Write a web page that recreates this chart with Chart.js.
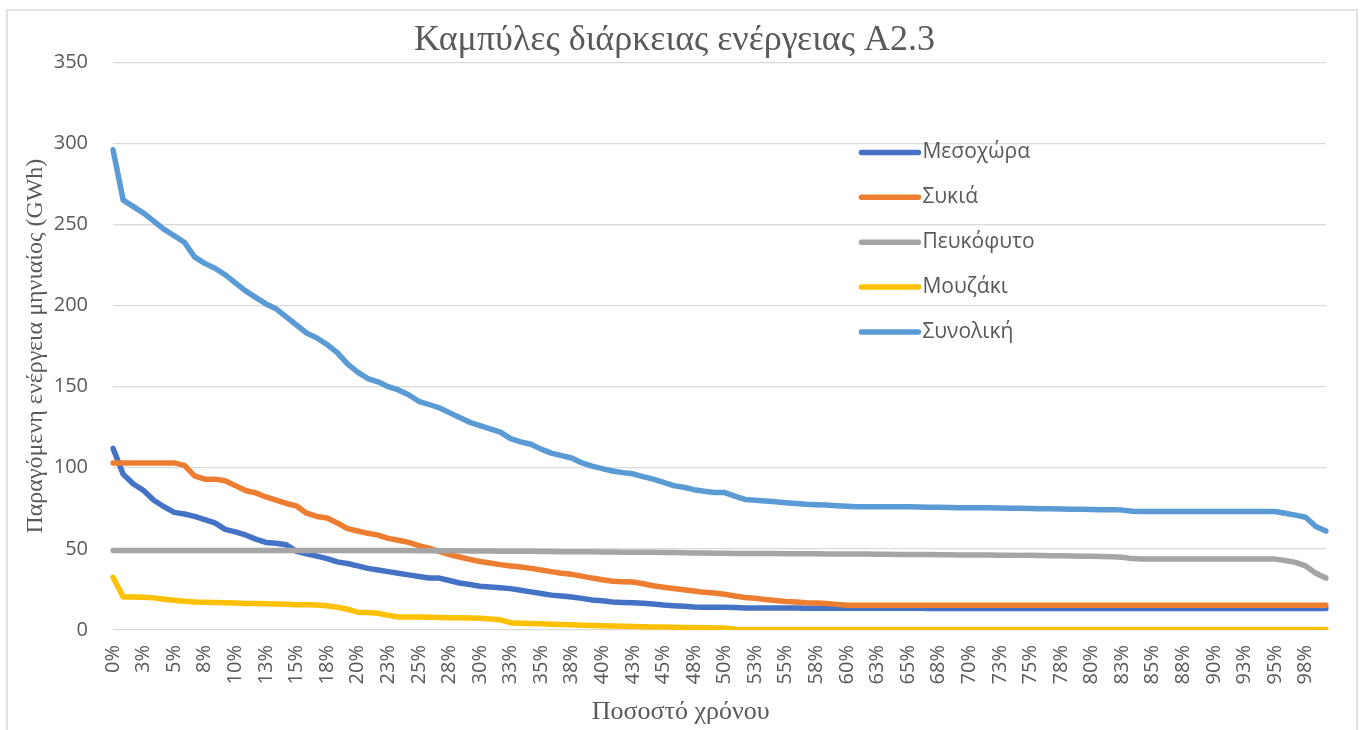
<!DOCTYPE html>
<html lang="el">
<head>
<meta charset="utf-8">
<title>Καμπύλες διάρκειας ενέργειας Α2.3</title>
<script src="https://cdn.jsdelivr.net/npm/chart.js@4.4.1/dist/chart.umd.min.js"></script>
<style>
  html, body { margin: 0; padding: 0; background: #fff; }
  #wrap { width: 1365px; height: 730px; position: relative; }
</style>
</head>
<body>
<div id="wrap"><canvas id="chart"></canvas></div>
<script>
// monthly energy, sorted descending (duration curves), 120 steps over the time share
const categories = Array.from({ length: 120 }, (_, i) => (i * 100 / 120).toFixed(1) + '%');

// axis labels shown every 3rd step (2.5 %)
const tickLabels = ['0%','3%','5%','8%','10%','13%','15%','18%','20%','23%','25%','28%','30%','33%','35%','38%',
  '40%','43%','45%','48%','50%','53%','55%','58%','60%','63%','65%','68%','70%','73%','75%','78%',
  '80%','83%','85%','88%','90%','93%','95%','98%'];

const seriesNames = ['Μεσοχώρα', 'Συκιά', 'Πευκόφυτο', 'Μουζάκι', 'Συνολική'];
const seriesColors = ['#4472C4', '#ED7D31', '#A5A5A5', '#FFC000', '#5B9BD5'];

const mesochora = [
  112, 96, 90, 86, 80, 76, 72.5, 71.5, 70, 68,
  66, 62, 60.5, 58.6, 56, 54, 53.5, 52.5, 48.5, 47,
  45.5, 44, 42, 41, 39.5, 38, 37, 36, 35, 34,
  33, 32, 32, 30.5, 29, 28, 27, 26.5, 26, 25.5,
  24.5, 23.5, 22.5, 21.5, 21, 20.3, 19.5, 18.5, 18, 17.3,
  17, 16.8, 16.5, 16, 15.4, 15, 14.6, 14.2, 14.1, 14,
  14, 13.8, 13.6, 13.6, 13.5, 13.5, 13.5, 13.5, 13.4, 13.4,
  13.4, 13.4, 13.4, 13.4, 13.4, 13.4, 13.4, 13.4, 13.4, 13.4,
  13.3, 13.3, 13.3, 13.3, 13.3, 13.3, 13.3, 13.3, 13.3, 13.3,
  13.3, 13.3, 13.3, 13.3, 13.3, 13.3, 13.3, 13.3, 13.3, 13.3,
  13.3, 13.3, 13.3, 13.3, 13.3, 13.3, 13.3, 13.3, 13.3, 13.3,
  13.3, 13.3, 13.3, 13.3, 13.3, 13.3, 13.3, 13.3, 13.3, 13.3
];

const sykia = [
  103, 103, 103, 103, 103, 103, 103, 101.5, 95, 93,
  93, 92, 89, 86, 84.5, 82, 80, 78, 76.5, 72,
  70, 69, 66, 62.5, 61, 59.6, 58.5, 56.5, 55.3, 54,
  52, 50.5, 48.5, 46.5, 45, 43.5, 42.2, 41.3, 40.3, 39.5,
  38.8, 38, 37, 36, 35, 34.3, 33.2, 32, 31, 30,
  29.8, 29.6, 28.5, 27.3, 26.4, 25.6, 24.8, 24, 23.2, 22.8,
  22, 21, 20, 19.5, 18.8, 18.2, 17.6, 17.2, 16.8, 16.6,
  16.4, 15.8, 15.3, 15.2, 15.2, 15.2, 15.2, 15.2, 15.2, 15.2,
  15.2, 15.2, 15.2, 15.2, 15.2, 15.2, 15.2, 15.2, 15.2, 15.2,
  15.2, 15.2, 15.2, 15.2, 15.2, 15.2, 15.2, 15.2, 15.2, 15.2,
  15.2, 15.2, 15.2, 15.2, 15.2, 15.2, 15.2, 15.2, 15.2, 15.2,
  15.2, 15.2, 15.2, 15.2, 15.2, 15.2, 15.2, 15.2, 15.2, 15.2
];

const pefkofyto = [
  49, 49, 49, 49, 49, 49, 49, 49, 49, 49,
  49, 49, 49, 49, 49, 49, 49, 49, 49, 49,
  49, 49, 49, 49, 49, 49, 49, 49, 49, 49,
  48.9, 48.9, 48.8, 48.8, 48.8, 48.7, 48.7, 48.7, 48.6, 48.6,
  48.5, 48.5, 48.4, 48.4, 48.3, 48.3, 48.2, 48.2, 48.1, 48.1,
  48, 48, 47.9, 47.9, 47.8, 47.7, 47.6, 47.5, 47.4, 47.3,
  47.3, 47.2, 47.2, 47.1, 47.1, 47.1, 47, 47, 47, 47,
  46.9, 46.9, 46.8, 46.8, 46.8, 46.7, 46.7, 46.6, 46.6, 46.5,
  46.5, 46.4, 46.4, 46.3, 46.3, 46.2, 46.2, 46.1, 46.1, 46,
  46, 45.9, 45.8, 45.7, 45.6, 45.5, 45.4, 45.3, 45.2, 44.8,
  44, 43.7, 43.7, 43.7, 43.7, 43.7, 43.7, 43.7, 43.7, 43.7,
  43.7, 43.7, 43.7, 43.7, 43.7, 42.8, 41.7, 39.5, 35, 32
];

const mouzaki = [
  32.5, 20.4, 20.3, 20.2, 19.8, 19, 18.3, 17.7, 17.3, 17.1,
  17, 16.8, 16.6, 16.4, 16.3, 16.2, 16, 15.8, 15.6, 15.5,
  15.4, 15, 14, 12.8, 11, 10.8, 10.3, 9, 8, 8,
  8, 7.8, 7.7, 7.6, 7.5, 7.4, 7.2, 6.8, 6.3, 4.5,
  4.2, 4, 3.8, 3.6, 3.4, 3.2, 3, 2.8, 2.6, 2.4,
  2.3, 2.1, 2, 1.9, 1.8, 1.7, 1.6, 1.5, 1.4, 1.3,
  1.2, 0.4, 0.3, 0.3, 0.3, 0.3, 0.3, 0.3, 0.3, 0.3,
  0.3, 0.3, 0.3, 0.3, 0.3, 0.3, 0.3, 0.3, 0.3, 0.3,
  0.3, 0.3, 0.3, 0.3, 0.3, 0.3, 0.3, 0.3, 0.3, 0.3,
  0.3, 0.3, 0.3, 0.3, 0.3, 0.3, 0.3, 0.3, 0.3, 0.3,
  0.3, 0.3, 0.3, 0.3, 0.3, 0.3, 0.3, 0.3, 0.3, 0.3,
  0.3, 0.3, 0.3, 0.3, 0.3, 0.3, 0.3, 0.3, 0.3, 0.3
];

const synoliki = [
  296, 265, 261, 257, 252, 247, 243, 239, 230, 226,
  223, 219, 214, 209, 205, 201, 198, 193, 188, 183,
  180, 176, 171, 164, 159, 155, 153, 150, 148, 145,
  141, 139, 137, 134, 131, 128, 126, 124, 122, 118,
  116, 114.5, 111.5, 109, 107.5, 106, 103, 101, 99.5, 98,
  97, 96.3, 94.5, 93, 91, 89, 88, 86.5, 85.5, 84.7,
  84.7, 82.5, 80.5, 80, 79.5, 79, 78.5, 78, 77.5, 77.2,
  77, 76.6, 76.3, 76, 76, 76, 76, 76, 75.9, 75.8,
  75.7, 75.6, 75.5, 75.4, 75.4, 75.3, 75.3, 75.2, 75.1, 75,
  74.9, 74.8, 74.7, 74.6, 74.5, 74.4, 74.3, 74.2, 74.2, 73.9,
  73.2, 73, 73, 73, 73, 73, 73, 73, 73, 73,
  73, 73, 73, 73, 73, 72, 70.8, 69.5, 63.8, 61
];

const seriesData = [mesochora, sykia, pefkofyto, mouzaki, synoliki];

const textGrey = '#595959';
const gridGrey = '#d9d9d9';
const sansFont = "'Open Sans', 'Noto Sans', sans-serif";
const serifFont = "'Liberation Serif', 'Times New Roman', serif";

// white card with a thin grey frame behind the whole chart
const framePlugin = {
  id: 'frame',
  beforeDraw(chart) {
    const { ctx, width, height } = chart;
    ctx.save();
    ctx.fillStyle = '#ffffff';
    ctx.fillRect(0, 0, width, height);
    ctx.strokeStyle = gridGrey;
    ctx.lineWidth = 1.5;
    ctx.strokeRect(7, 10, width - 15, height);
    ctx.restore();
  }
};

// x axis caption, sitting a bit left of the plot centre
const xCaption = {
  id: 'xCaption',
  afterDraw(chart, args, opts) {
    const { ctx, chartArea } = chart;
    ctx.save();
    ctx.font = `${opts.fontSize}px ${serifFont}`;
    ctx.fillStyle = textGrey;
    ctx.textAlign = 'center';
    ctx.textBaseline = 'middle';
    ctx.fillText(opts.text, chartArea.left + opts.at * chartArea.width, chart.height - opts.fromBottom);
    ctx.restore();
  }
};

// legend list placed inside the plot area, right of centre
const insideLegend = {
  id: 'insideLegend',
  afterDraw(chart, args, opts) {
    const { ctx, chartArea } = chart;
    const x0 = chartArea.left + opts.left * chartArea.width;
    const y0 = chartArea.top + opts.top * chartArea.height;
    const rowGap = opts.row * chartArea.height;
    ctx.save();
    ctx.font = `${opts.fontSize}px ${sansFont}`;
    ctx.textBaseline = 'middle';
    ctx.textAlign = 'left';
    chart.data.datasets.forEach((ds, i) => {
      const y = y0 + i * rowGap;
      ctx.strokeStyle = ds.borderColor;
      ctx.lineWidth = ds.borderWidth;
      ctx.lineCap = 'round';
      ctx.beginPath();
      ctx.moveTo(x0, y);
      ctx.lineTo(x0 + opts.sample, y);
      ctx.stroke();
      ctx.fillStyle = textGrey;
      ctx.fillText(ds.label, x0 + opts.sample + 4, y);
    });
    ctx.restore();
  }
};

const ctx = document.getElementById('chart').getContext('2d');

const energyChart = new Chart(ctx, {
  type: 'line',
  data: {
    labels: categories,
    datasets: seriesNames.map((name, i) => ({
      label: name,
      data: seriesData[i],
      borderColor: seriesColors[i],
      backgroundColor: seriesColors[i],
      borderWidth: 5.5,
      borderCapStyle: 'round',
      borderJoinStyle: 'round',
      pointRadius: 0,
      tension: 0,
      // later series drawn on top
      order: seriesNames.length - i
    }))
  },
  options: {
    responsive: true,
    maintainAspectRatio: false,
    animation: false,
    layout: { padding: { left: 8, right: 24, top: 10, bottom: 0 } },
    plugins: {
      legend: { display: false },
      tooltip: { enabled: false },
      title: {
        display: true,
        text: 'Καμπύλες διάρκειας ενέργειας Α2.3',
        color: textGrey,
        font: { family: serifFont, size: 36, weight: 'normal' },
        padding: { top: 9, bottom: 0 }
      },
      insideLegend: { left: 0.617, top: 0.159, row: 0.079, sample: 57, fontSize: 21 },
      xCaption: { text: 'Ποσοστό χρόνου', at: 0.468, fromBottom: 18, fontSize: 26 }
    },
    scales: {
      x: {
        grid: { display: false, drawTicks: false },
        border: { display: false },
        ticks: {
          color: textGrey,
          font: { family: sansFont, size: 20 },
          autoSkip: false,
          minRotation: 90,
          maxRotation: 90,
          padding: 15,
          callback: (value, index) => (index % 3 === 0 ? tickLabels[index / 3] : '')
        },
        afterFit: (scale) => { scale.height = 100; }
      },
      y: {
        min: 0,
        max: 350,
        grid: { color: gridGrey, lineWidth: 1.3, drawTicks: false },
        border: { display: false },
        ticks: {
          stepSize: 50,
          color: textGrey,
          font: { family: sansFont, size: 20 },
          padding: 25
        },
        title: {
          display: true,
          text: 'Παραγόμενη ενέργεια μηνιαίος (GWh)',
          color: textGrey,
          font: { family: serifFont, size: 24 },
          padding: { top: 13, bottom: 0 }
        },
        afterFit: (scale) => { scale.width = 105; }
      }
    }
  },
  plugins: [framePlugin, insideLegend, xCaption]
});
</script>
</body>
</html>
